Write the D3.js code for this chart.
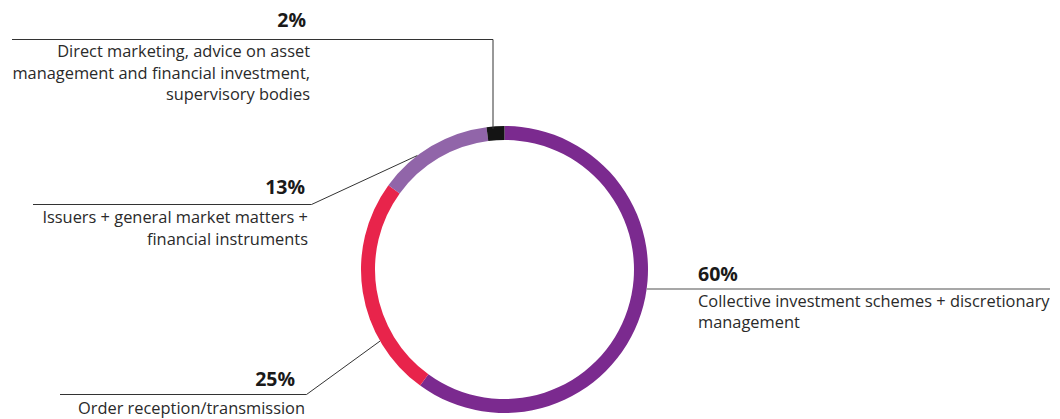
<!DOCTYPE html>
<html>
<head>
<meta charset="utf-8">
<script src="https://cdn.jsdelivr.net/npm/d3@7"></script>
<style>
  html, body { margin: 0; padding: 0; background: #ffffff; }
  svg { display: block; }
  .pct { font-family: "Open Sans", "Noto Sans", sans-serif; font-weight: 700; font-size: 19.5px; fill: #1a1a1a; }
  .desc { font-family: "Open Sans", "Noto Sans", sans-serif; font-size: 16.4px; fill: #2a2a2a; }
</style>
</head>
<body>
<svg id="chart" width="1060" height="419"></svg>
<script>
// ---- data ----
const categories = [
  "Collective investment schemes + discretionary management",
  "Order reception/transmission",
  "Issuers + general market matters + financial instruments",
  "Direct marketing, advice on asset management and financial investment, supervisory bodies"
];
const values = [60, 25, 13, 2];
const pctLabels = ["60%", "25%", "13%", "2%"];
const descLines = [
  ["Collective investment schemes + discretionary", "management"],
  ["Order reception\u2215transmission"],
  ["Issuers + general market matters +", "financial instruments"],
  ["Direct marketing, advice on asset", "management and financial investment,", "supervisory bodies"]
];
const colors = ["#7b2a8f", "#e8244b", "#9165a9", "#141414"];

// ---- layout (positions / styles) ----
const W = 1060, H = 419;
const cx = 504.5, cy = 269.5, rOuter = 143.5, rInner = 129.5;
const lineH = 21.6;
// leader anchor angle (degrees clockwise from top), label layout
const labelLayout = [
  { angle: 97.7, side: "right", lineY: 289, lineX: 1050, textX: 698, pctY: 280.7, descY: 306.7, lineColor: "#8a8a8a", lineW: 1.6 },
  { angle: 240.1, side: "left", lineY: 394.5, lineX: 60, elbowX: 306.5, pctX: 295, textX: 305, pctY: 385.7, descY: 414, lineColor: "#333", lineW: 1 },
  { angle: 322.6, side: "left", lineY: 204.5, lineX: 33, elbowX: 311.5, pctX: 305, textX: 308, pctY: 194, descY: 223, lineColor: "#333", lineW: 1 },
  { angle: null, side: "top", lineY: 39.5, lineX: 12, elbowX: 493, pctX: 306, textX: 310, pctY: 27, descY: 57, lineColor: "#333", lineW: 1 }
];

const svg = d3.select("#chart");

const pie = d3.pie().sort(null).value(d => d).startAngle(0).endAngle(2 * Math.PI);
const arcs = pie(values);
const arc = d3.arc().innerRadius(rInner).outerRadius(rOuter);

const g = svg.append("g").attr("transform", `translate(${cx},${cy})`);
g.selectAll("path.seg")
  .data(arcs)
  .join("path")
  .attr("class", "seg")
  .attr("d", arc)
  .attr("fill", (d, i) => colors[i]);

function pointAt(angleDeg, r) {
  const a = angleDeg * Math.PI / 180;
  return [cx + r * Math.sin(a), cy - r * Math.cos(a)];
}

const lg = svg.append("g");
labelLayout.forEach((L, i) => {
  let pts;
  if (L.side === "right") {
    const p = pointAt(L.angle, rOuter);
    pts = [[p[0], L.lineY], [L.lineX, L.lineY]];
  } else if (L.side === "left") {
    const p = pointAt(L.angle, rOuter);
    pts = [[L.lineX, L.lineY], [L.elbowX, L.lineY], p];
  } else {
    const yTop = cy - rOuter + 3;
    pts = [[L.lineX, L.lineY], [L.elbowX, L.lineY], [L.elbowX, yTop]];
  }
  lg.append("path")
    .attr("d", d3.line()(pts))
    .attr("fill", "none")
    .attr("stroke", L.lineColor)
    .attr("stroke-width", L.lineW);

  const anchor = L.side === "right" ? "start" : "end";
  lg.append("text")
    .attr("class", "pct")
    .attr("x", L.side === "right" ? L.textX : L.pctX)
    .attr("y", L.pctY)
    .attr("text-anchor", anchor)
    .text(pctLabels[i]);
  descLines[i].forEach((t, j) => {
    lg.append("text")
      .attr("class", "desc")
      .attr("x", L.textX)
      .attr("y", L.descY + j * lineH)
      .attr("text-anchor", anchor)
      .text(t);
  });
});
</script>
</body>
</html>
